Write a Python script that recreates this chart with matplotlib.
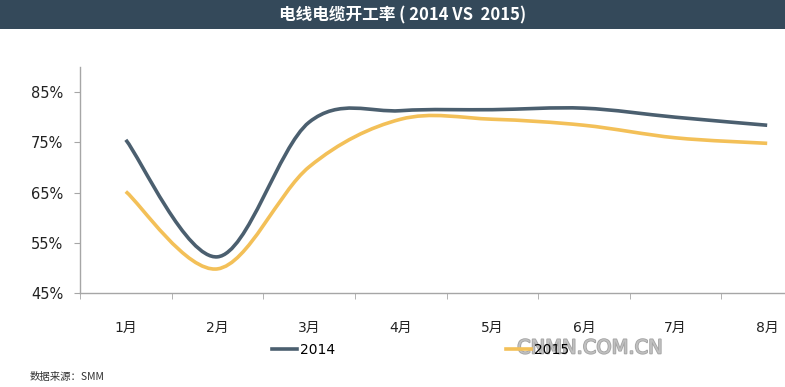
import matplotlib
matplotlib.use("Agg")
import matplotlib.pyplot as plt
from matplotlib.path import Path
from matplotlib.patches import PathPatch, Rectangle
from matplotlib.lines import Line2D
import matplotlib.patheffects as pe

plt.rcParams['font.family'] = ['DejaVu Sans', 'Noto Sans CJK SC']

months = ['1月', '2月', '3月', '4月', '5月', '6月', '7月', '8月']
rate_2014 = [75.5, 52.2, 79.0, 81.3, 81.5, 81.8, 80.0, 78.4]
rate_2015 = [65.2, 49.8, 70.1, 79.6, 79.6, 78.4, 75.9, 74.8]
yticks = [45, 55, 65, 75, 85]

c2014 = '#4b5f6f'
c2015 = '#f3c058'


def smooth_path(xs, ys):
    # excel style smoothed line: cubic bezier, catmull-rom control points
    n = len(xs)
    verts = [(xs[0], ys[0])]
    codes = [Path.MOVETO]
    for i in range(n - 1):
        x0, y0 = xs[max(i - 1, 0)], ys[max(i - 1, 0)]
        x1, y1 = xs[i], ys[i]
        x2, y2 = xs[i + 1], ys[i + 1]
        x3, y3 = xs[min(i + 2, n - 1)], ys[min(i + 2, n - 1)]
        c1 = (x1 + (x2 - x0) / 6.0, y1 + (y2 - y0) / 6.0)
        c2 = (x2 - (x3 - x1) / 6.0, y2 - (y3 - y1) / 6.0)
        verts += [c1, c2, (x2, y2)]
        codes += [Path.CURVE4] * 3
    return Path(verts, codes)


fig = plt.figure(figsize=(7.85, 3.87), dpi=100)

# title band
fig.patches.append(Rectangle((0, 1 - 29 / 387), 1, 29 / 387, transform=fig.transFigure,
                             facecolor='#34495a', edgecolor='none', zorder=0))
fig.text(0.513, 1 - 15 / 387, '电线电缆开工率 ( 2014 VS  2015)', color='white',
         fontsize=12, fontweight='bold', ha='center', va='center',
         family=['Noto Sans CJK SC', 'DejaVu Sans'])

ax = fig.add_axes([80 / 785, 94 / 387, 733 / 785, 226 / 387])
x = list(range(1, len(months) + 1))
for vals, col in [(rate_2014, c2014), (rate_2015, c2015)]:
    ax.add_patch(PathPatch(smooth_path(x, vals), facecolor='none', edgecolor=col,
                           lw=2.6, capstyle='butt', zorder=3))

ax.set_xlim(0.5, 8.5)
ax.set_ylim(45, 90)
ax.set_yticks(yticks)
ax.set_yticklabels([f'{v}%' for v in yticks])
ax.set_xticks(x)
ax.set_xticklabels(months)
ax.set_xticks([i + 0.5 for i in range(0, 9)], minor=True)
ax.tick_params(axis='x', which='major', length=0, pad=20, labelsize=10, colors='#222222')
ax.tick_params(axis='x', which='minor', length=4, color='#a6a6a6', direction='out')
ax.tick_params(axis='y', length=4, color='#a6a6a6', pad=8, labelsize=10.5, colors='#222222')
for s in ['top', 'right']:
    ax.spines[s].set_visible(False)
for s in ['left', 'bottom']:
    ax.spines[s].set_color('#a6a6a6')
    ax.spines[s].set_linewidth(1.0)

handles = [Line2D([], [], color=c2014, lw=2.6), Line2D([], [], color=c2015, lw=2.6)]
fig.legend(handles, ['2014', '2015'], loc='center left',
           bbox_to_anchor=(272 / 785, 1 - 350 / 387), ncol=2, frameon=False,
           fontsize=10, handlelength=1.8, handletextpad=0.2, columnspacing=12.3,
           borderpad=0, borderaxespad=0)

# watermark
fig.text(590 / 785, 1 - 348 / 387, 'CNMN.COM.CN', fontsize=14, color='#c4c4c4',
         ha='center', va='center', alpha=0.9,
         path_effects=[pe.withStroke(linewidth=1.2, foreground='#9a9a9a')])

fig.text(30 / 785, 1 - 377 / 387, '数据来源：SMM', fontsize=7.5, style='italic',
         color='#333333', ha='left', va='center',
         family=['Noto Sans CJK SC', 'DejaVu Sans'])

fig.savefig('out.png', dpi=100)
